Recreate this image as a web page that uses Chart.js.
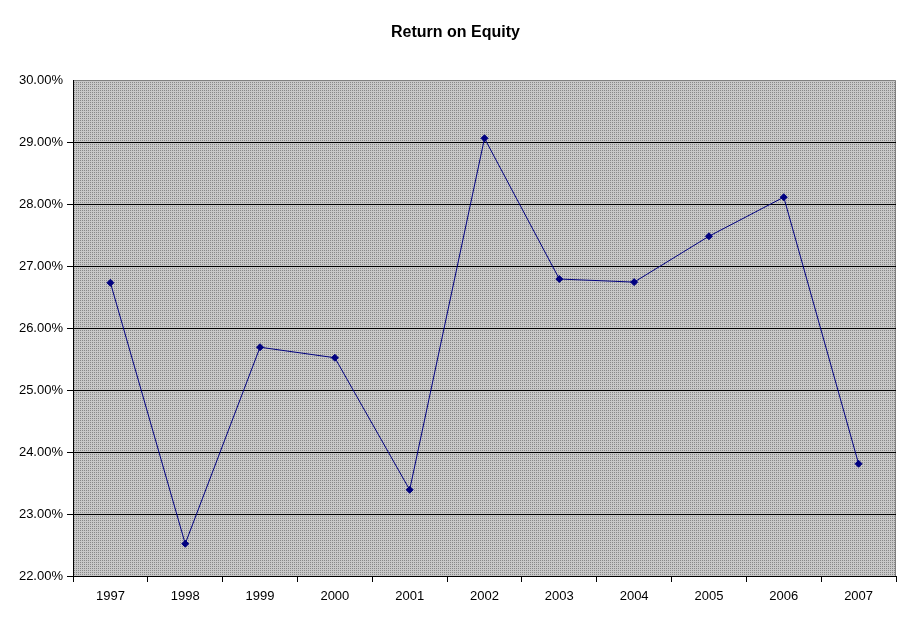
<!DOCTYPE html>
<html>
<head>
<meta charset="utf-8">
<script src="https://cdn.jsdelivr.net/npm/chart.js@4"></script>
<style>
  html, body { margin: 0; padding: 0; background: #fff; }
  #wrap { width: 911px; height: 623px; }
</style>
</head>
<body>
<div id="wrap"><canvas id="roe"></canvas></div>
<script>
const years = ['1997','1998','1999','2000','2001','2002','2003','2004','2005','2006','2007'];
const roeValues = [26.73, 22.52, 25.69, 25.52, 23.39, 29.06, 26.79, 26.74, 27.48, 28.11, 23.81];
const yMin = 22;
const yMax = 30;

// dotted grey fill like the old Excel plot area
function makePattern(ctx) {
  var p = document.createElement('canvas');
  p.width = 2; p.height = 2;
  var pc = p.getContext('2d');
  pc.fillStyle = '#c8c8c8';
  pc.fillRect(0, 0, 2, 2);
  pc.fillStyle = '#888888';
  pc.fillRect(0, 0, 1, 1);
  return ctx.createPattern(p, 'repeat');
}

const plotBg = {
  id: 'plotBg',
  beforeDraw(chart) {
    var a = chart.chartArea, c = chart.ctx;
    c.save();
    c.fillStyle = makePattern(c);
    c.fillRect(a.left, a.top, a.right - a.left, a.bottom - a.top);
    c.strokeStyle = '#808080';
    c.lineWidth = 1;
    c.beginPath();
    c.moveTo(a.left, a.top + 0.5);
    c.lineTo(a.right - 0.5, a.top + 0.5);
    c.lineTo(a.right - 0.5, a.bottom);
    c.stroke();
    c.restore();
  }
};

var ctx = document.getElementById('roe').getContext('2d');
var chart = new Chart(ctx, {
  type: 'line',
  data: {
    labels: years,
    datasets: [{
      data: roeValues,
      borderColor: '#000080',
      backgroundColor: '#000080',
      borderWidth: 1,
      pointStyle: 'rectRot',
      pointRadius: 3.5,
      pointHoverRadius: 3.5,
      tension: 0
    }]
  },
  options: {
    responsive: true,
    maintainAspectRatio: false,
    animation: false,
    layout: { padding: 0 },
    plugins: {
      legend: { display: false },
      tooltip: { enabled: false },
      title: {
        display: true,
        text: 'Return on Equity',
        color: '#000',
        font: { family: 'Arial, "Liberation Sans"', size: 16, weight: 'bold' },
        padding: { top: 23, bottom: 37.8 }
      }
    },
    scales: {
      x: {
        offset: true,
        grid: {
          offset: true,
          drawOnChartArea: false,
          drawTicks: true,
          tickLength: 6,
          color: '#000'
        },
        border: { display: true, color: '#000', width: 1 },
        ticks: {
          color: '#000',
          padding: 7,
          maxRotation: 0,
          font: { family: 'Arial, "Liberation Sans"', size: 13 }
        },
        afterFit(s) { s.height = 47; }
      },
      y: {
        min: yMin,
        max: yMax,
        grid: {
          color: function(c) { return c.tick && c.tick.value === yMax ? 'rgba(0,0,0,0)' : '#000'; },
          tickLength: 6,
          drawTicks: true
        },
        border: { display: true, color: '#000', width: 1 },
        ticks: {
          stepSize: 1,
          color: '#000',
          padding: 4,
          font: { family: 'Arial, "Liberation Sans"', size: 13 },
          callback: function(v) { return v.toFixed(2) + '%'; }
        },
        afterFit(s) { s.width = 73; }
      },
      // empty right axis, only keeps the right margin so the title stays centred on the page
      yRight: {
        position: 'right',
        min: yMin,
        max: yMax,
        grid: { display: false },
        border: { display: false },
        ticks: { display: false },
        afterFit(s) { s.width = 15; }
      }
    }
  },
  plugins: [plotBg]
});
</script>
</body>
</html>
